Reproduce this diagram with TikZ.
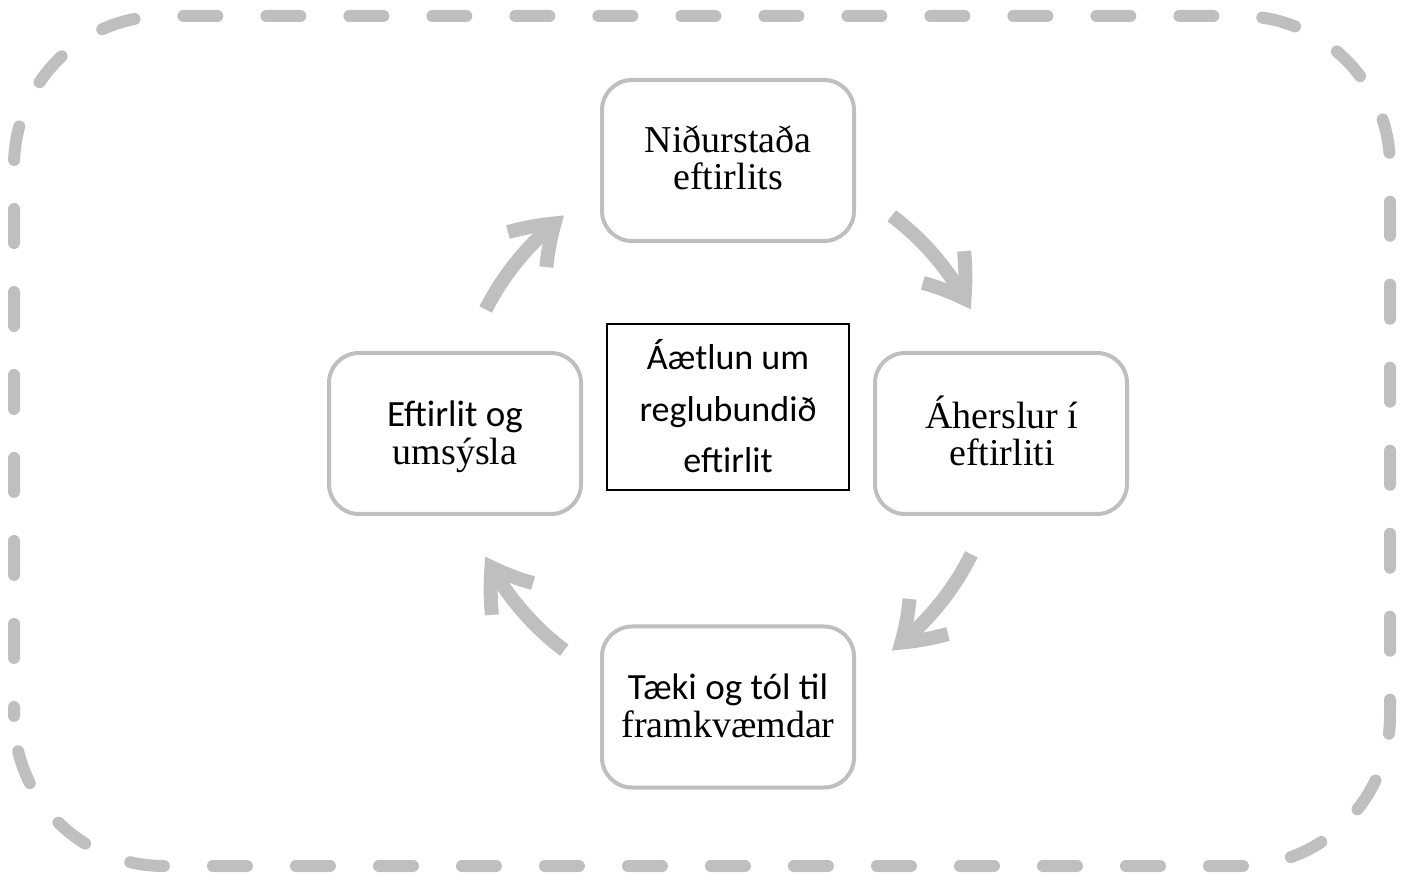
\documentclass[tikz,border=0pt]{standalone}
\usepackage{fontspec}
\setmainfont{Liberation Serif}
\newfontfamily\calfont{Carlito}
\usetikzlibrary{arrows.meta,bending,calc}
\definecolor{lgray}{HTML}{BFBFBF}
\tikzset{
  x=1pt,y=1pt,
  cyclebox/.style={draw=lgray,line width=4pt,rounded corners=30pt,minimum width=252pt,minimum height=161pt,inner sep=0pt},
  planbox/.style={draw=black,line width=1.6pt,minimum width=242pt,minimum height=166pt,inner sep=0pt},
  serifline/.style={anchor=base,font=\fontsize{38}{38}\selectfont,inner sep=0pt},
  sansline/.style={anchor=base,font=\calfont\fontsize{37}{37}\selectfont,inner sep=0pt},
  plansans/.style={anchor=base,font=\calfont\fontsize{36}{36}\selectfont,inner sep=0pt},
  cyclearrow/.style={draw=lgray,line width=14pt,-{Straight Barb[length=38pt,width=52pt,bend]}},
  frame/.style={draw=lgray,line width=12pt,line cap=round,rounded corners=150pt,dash pattern=on 34pt off 49pt,dash phase=25pt}
}
\begin{document}
\begin{tikzpicture}
\useasboundingbox (0,0) rectangle (1405,881);
% outer dashed frame
\coordinate (fsw) at (14,15);
\coordinate (fne) at (1390,865);
\draw[frame] (fsw) rectangle (fne);
% boxes
\node[cyclebox] (top) at (728,720.5) {};
\node[cyclebox] (left) at (455,447.5) {};
\node[cyclebox] (right) at (1001,447.5) {};
\node[cyclebox] (bottom) at (728,174) {};
\node[planbox] (plan) at (728,474) {};
% texts
\node[serifline] (t1) at (728,728) {Niðurstaða};
\node[serifline] (t2) at (728,691) {eftirlits};
\node[sansline] (l1) at (455,454) {Eftirlit og};
\node[serifline] (l2) at (455,416) {umsýsla};
\node[serifline] (r1) at (1002,452) {Áherslur í};
\node[serifline] (r2) at (1002,415) {eftirliti};
\node[sansline] (b1) at (728,181) {Tæki og tól til};
\node[serifline] (b2) at (728,143) {framkvæmdar};
\node[plansans] (p1) at (728,511) {Áætlun um};
\node[plansans] (p2) at (728,459) {reglubundið};
\node[plansans] (p3) at (728,408) {eftirlit};
% arrows
\coordinate (C) at (728,448);
\coordinate (a1) at ($(C)+(153:272)$);
\coordinate (a2) at ($(C)+(53:272)$);
\coordinate (a3) at ($(C)+(-26.5:272)$);
\coordinate (a4) at ($(C)+(233:272)$);
\draw[cyclearrow] (a1) arc[start angle=153,end angle=127,radius=272pt];
\draw[cyclearrow] (a2) arc[start angle=53,end angle=27,radius=272pt];
\draw[cyclearrow] (a3) arc[start angle=-26.5,end angle=-53,radius=272pt];
\draw[cyclearrow] (a4) arc[start angle=233,end angle=207,radius=272pt];
\end{tikzpicture}
\end{document}
